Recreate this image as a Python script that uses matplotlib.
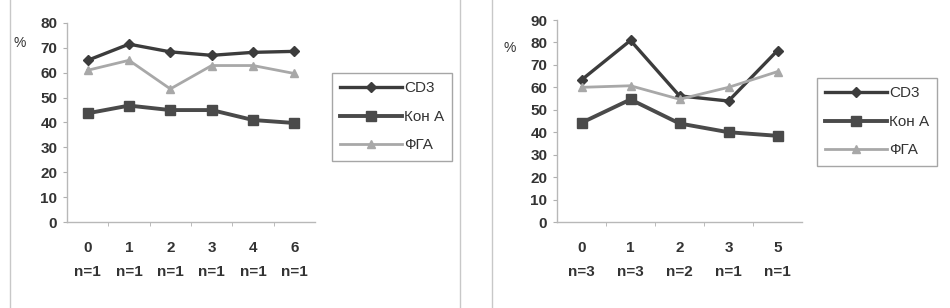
import matplotlib.pyplot as plt
from matplotlib.patches import Rectangle

plt.rcParams['font.family'] = ['Liberation Sans', 'DejaVu Sans']

# left chart
days_l = ['0', '1', '2', '3', '4', '6']
n_l = ['n=1', 'n=1', 'n=1', 'n=1', 'n=1', 'n=1']
cd3_l = [65, 71.5, 68.4, 67, 68.2, 68.6]
kon_l = [43.7, 46.8, 45, 45, 41, 39.8]
fga_l = [61, 65, 53.5, 62.9, 62.9, 59.7]

# right chart
days_r = ['0', '1', '2', '3', '5']
n_r = ['n=3', 'n=3', 'n=2', 'n=1', 'n=1']
cd3_r = [63.3, 80.9, 56.2, 53.9, 76.4]
kon_r = [44.2, 54.6, 43.9, 40, 38.4]
fga_r = [60, 60.7, 54.7, 60, 67]

W, H = 950, 308
fig = plt.figure(figsize=(W / 100, H / 100), dpi=100)
fig.patch.set_facecolor('white')

# panel frames
for x0, x1 in [(10, 460), (492, 960)]:
    fig.patches.append(Rectangle((x0 / W, -0.05), (x1 - x0) / W, (H - 304) / H + 0.05 + 1.0,
                                 transform=fig.transFigure, fill=False,
                                 edgecolor='#c8c8c8', linewidth=1.0))

def draw(rect, days, ns, cd3, kon, fga, ymax, pct_xy, leg_xy):
    ax = fig.add_axes(rect)
    x = list(range(len(days)))
    ax.plot(x, cd3, color='#3c3c3c', lw=2.4, marker='D', ms=5.5, label='CD3')
    ax.plot(x, kon, color='#4a4a4a', lw=2.8, marker='s', ms=7, label='Кон А')
    ax.plot(x, fga, color='#a8a8a8', lw=2.0, marker='^', ms=6, label='ФГА')
    ax.set_xlim(-0.5, len(days) - 0.5)
    ax.set_ylim(0, ymax)
    ax.set_yticks(range(0, ymax + 1, 10))
    ax.set_xticks(x)
    ax.set_xticklabels([d + '\n' + n for d, n in zip(days, ns)], linespacing=1.9)
    ax.set_xticks([i + 0.5 for i in x[:-1]], minor=True)
    ax.tick_params(axis='x', which='major', length=0, pad=14)
    ax.tick_params(axis='x', which='minor', length=3, color='#b0b0b0')
    ax.tick_params(axis='y', length=3, color='#b0b0b0', pad=4)
    for lbl in ax.get_xticklabels() + ax.get_yticklabels():
        lbl.set_fontsize(11)
        lbl.set_fontweight('bold')
        lbl.set_color('#333333')
    for s in ['top', 'right']:
        ax.spines[s].set_visible(False)
    for s in ['left', 'bottom']:
        ax.spines[s].set_color('#b8b8b8')
        ax.spines[s].set_linewidth(1.0)
    ax.set_facecolor('none')
    fig.text(pct_xy[0] / W, 1 - pct_xy[1] / H, '%', fontsize=10, color='#333333',
             ha='center', va='center')
    leg = ax.legend(loc='upper left', bbox_to_anchor=(leg_xy[0] / W, 1 - leg_xy[1] / H),
                    bbox_transform=fig.transFigure, borderaxespad=0,
                    fontsize=11, frameon=True, fancybox=False, handlelength=4.0,
                    labelspacing=0.95, borderpad=0.55, handletextpad=0.15)
    leg.get_frame().set_edgecolor('#909090')
    leg.get_frame().set_linewidth(1.0)
    for t in leg.get_texts():
        t.set_color('#333333')
    return ax

def frac_rect(x0, x1, ytop, ybot):
    return [x0 / W, 1 - ybot / H, (x1 - x0) / W, (ybot - ytop) / H]

draw(frac_rect(67, 315, 23, 222), days_l, n_l, cd3_l, kon_l, fga_l, 80,
     (20, 43), (332, 73))
draw(frac_rect(557, 802, 20, 222), days_r, n_r, cd3_r, kon_r, fga_r, 90,
     (510, 48), (817, 78))

fig.savefig('out.png', dpi=100, facecolor='white')
